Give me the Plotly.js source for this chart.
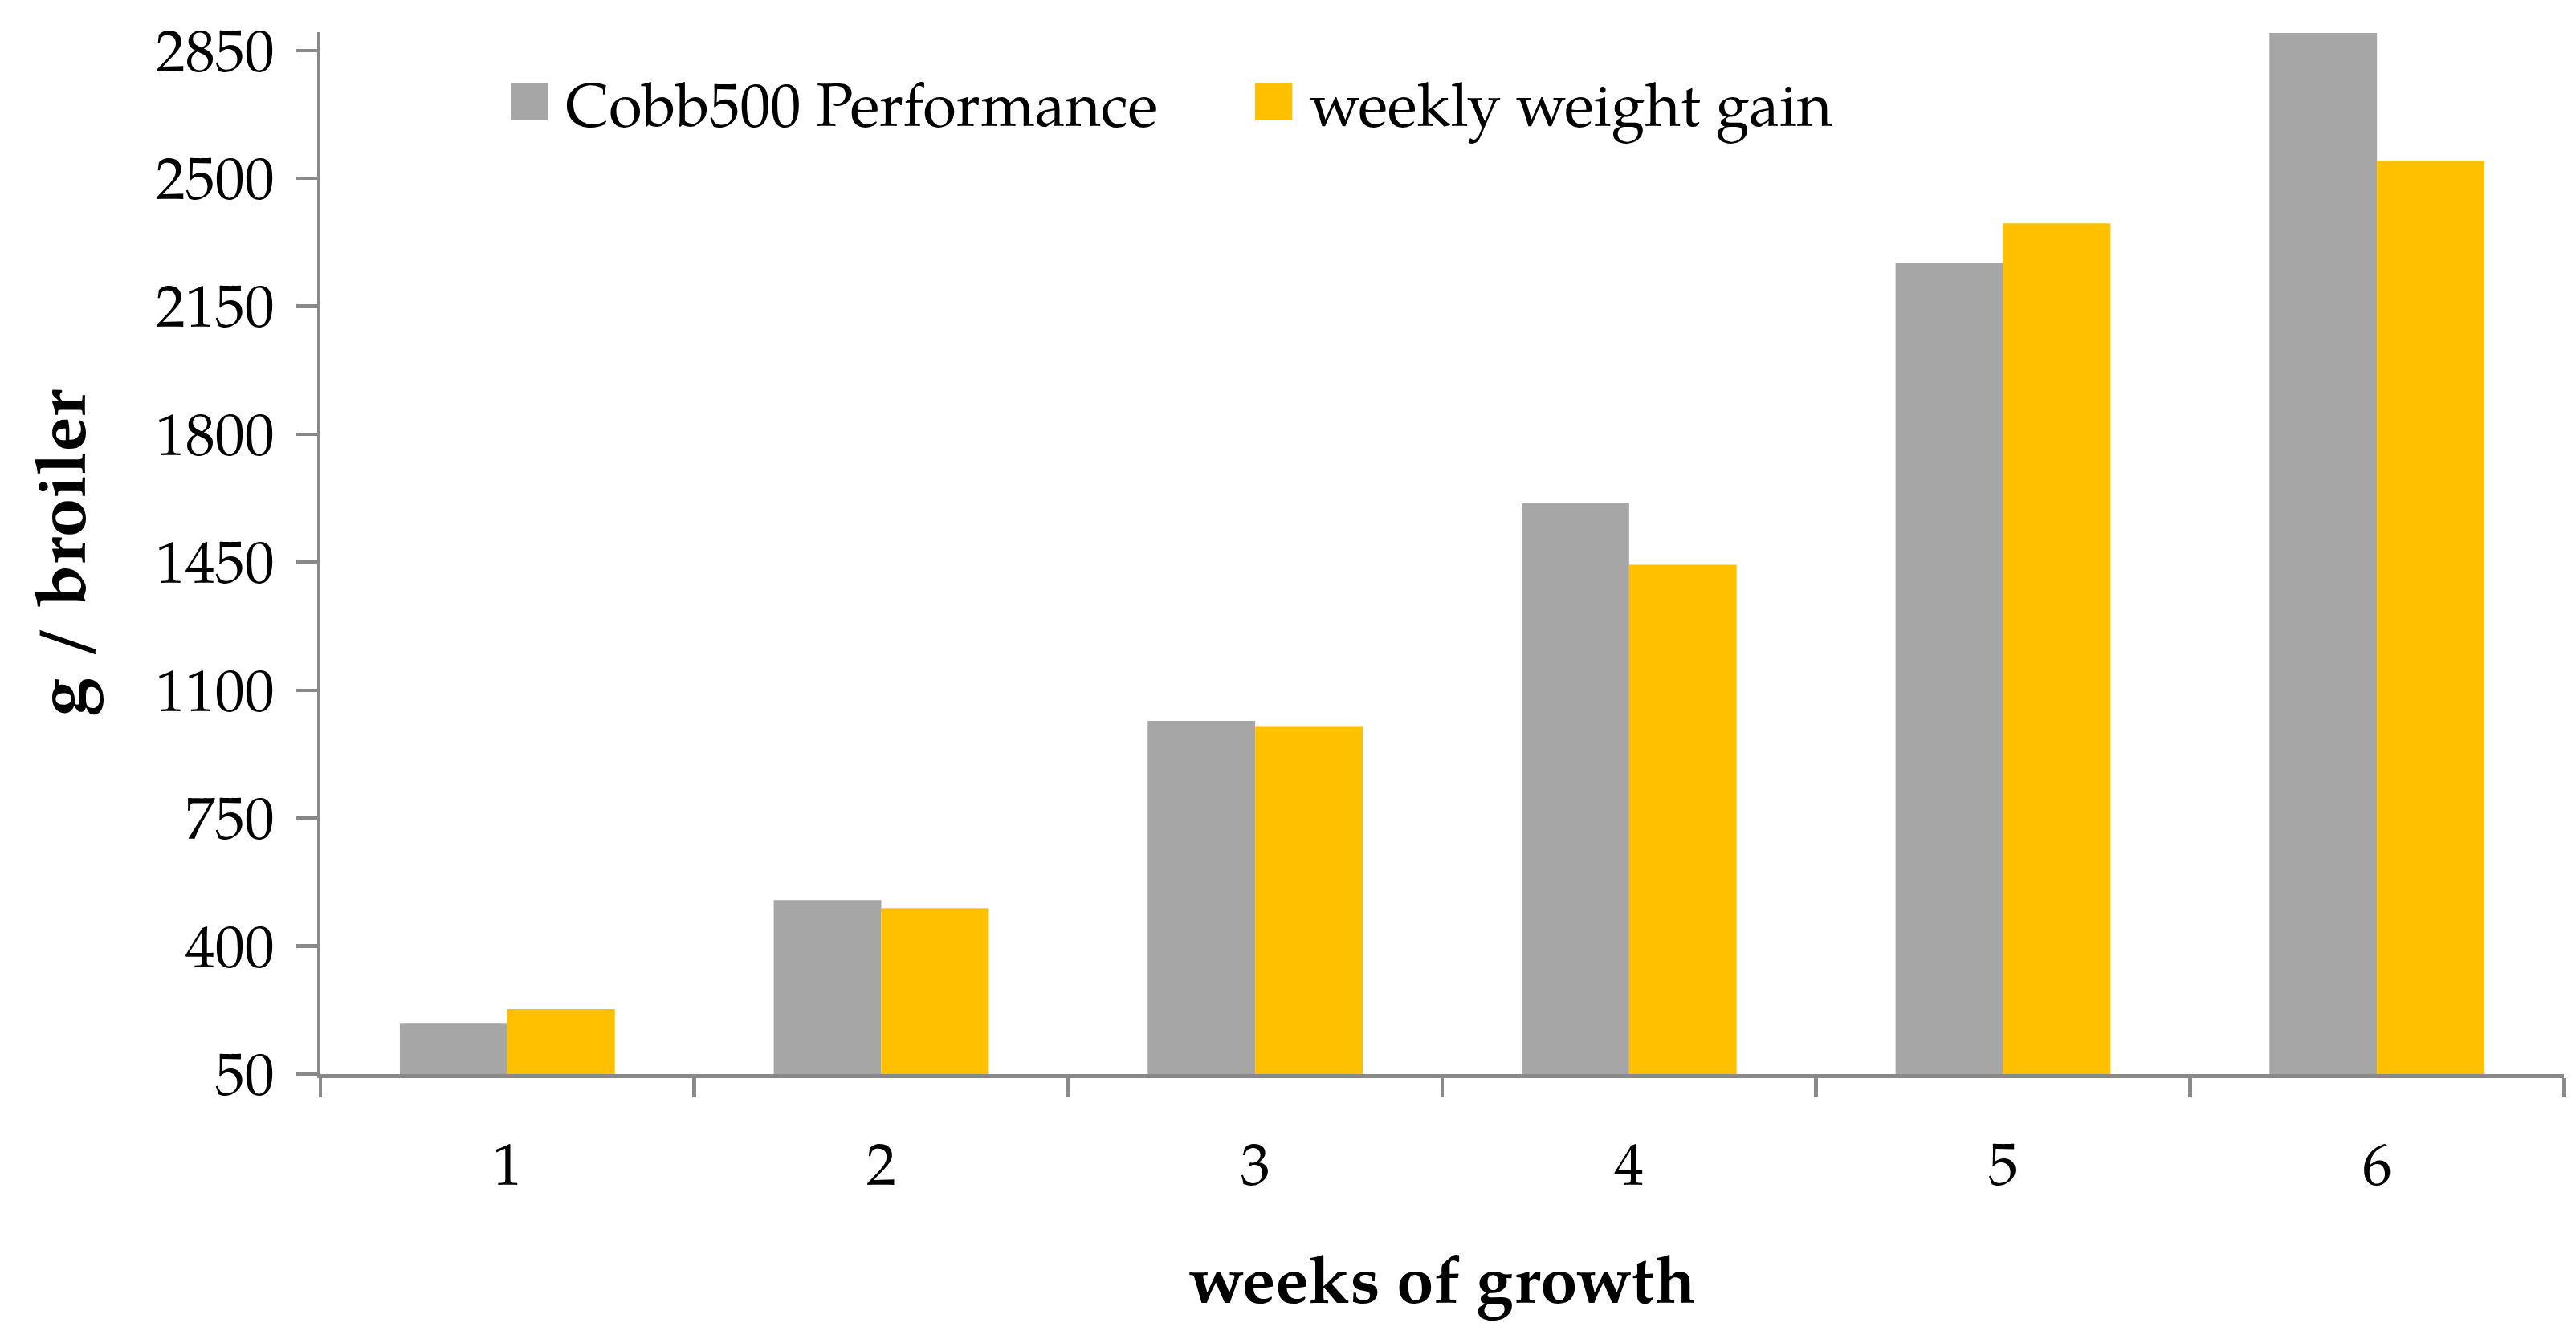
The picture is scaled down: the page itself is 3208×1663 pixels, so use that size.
<!DOCTYPE html>
<html>
<head>
<meta charset="utf-8">
<script src="https://cdn.plot.ly/plotly-3.0.1.min.js"></script>
<style>
  html, body { margin: 0; padding: 0; background: #ffffff; }
  #chart { width: 3208px; height: 1663px; }
</style>
</head>
<body>
<div id="chart"></div>
<script>
// ---- data ----
const weeks = ['1', '2', '3', '4', '5', '6'];
const cobb500Performance = [190, 526, 1016, 1613, 2269, 2898];
const weeklyWeightGain = [228, 504, 1002, 1443, 2377, 2548];
const yTickValues = [50, 400, 750, 1100, 1450, 1800, 2150, 2500, 2850];

const SERIF = "'Palatino Linotype', 'Book Antiqua', Palatino, 'TeX Gyre Pagella', 'URW Palladio L', P052, 'Liberation Serif', 'DejaVu Serif', serif";
const AXIS_GREY = '#898989';

const traces = [
  {
    type: 'bar',
    name: 'Cobb500 Performance',
    x: weeks,
    y: cobb500Performance,
    marker: { color: '#A6A6A6', line: { width: 0 } },
    hoverinfo: 'x+y+name'
  },
  {
    type: 'bar',
    name: 'weekly weight gain',
    x: weeks,
    y: weeklyWeightGain,
    marker: { color: '#FFC000', line: { width: 0 } },
    hoverinfo: 'x+y+name'
  }
];

const layout = {
  width: 3208,
  height: 1663,
  paper_bgcolor: '#ffffff',
  plot_bgcolor: '#ffffff',
  margin: { l: 399, r: 15, t: 40, b: 325, pad: 0 },
  barmode: 'group',
  bargap: 0.425,
  bargroupgap: 0,
  font: { family: SERIF, color: '#000000', size: 74 },
  showlegend: true,
  legend: {
    orientation: 'h',
    x: 0.077,
    xanchor: 'left',
    y: 0.933,
    yanchor: 'middle',
    font: { family: SERIF, size: 76, color: '#000000' },
    bgcolor: 'rgba(0,0,0,0)',
    borderwidth: 0,
    itemwidth: 80,
    entrywidth: 832,
    entrywidthmode: 'pixels',
    traceorder: 'normal'
  },
  xaxis: {
    type: 'category',
    categoryorder: 'array',
    categoryarray: weeks,
    showline: true,
    linecolor: AXIS_GREY,
    linewidth: 4.5,
    ticks: 'outside',
    tickson: 'boundaries',
    ticklen: 24,
    tickwidth: 4.5,
    tickcolor: AXIS_GREY,
    showgrid: false,
    zeroline: false,
    tickfont: { family: SERIF, size: 74, color: '#000000' },
    ticklabelstandoff: 45,
    title: {
      text: '<b>weeks of growth</b>',
      font: { family: SERIF, size: 83, color: '#000000' },
      standoff: 70
    },
    automargin: false
  },
  yaxis: {
    range: [50, 2900],
    tickmode: 'array',
    tickvals: yTickValues,
    ticktext: yTickValues.map(String),
    showline: true,
    linecolor: AXIS_GREY,
    linewidth: 4.5,
    ticks: 'outside',
    ticklen: 26,
    tickwidth: 4.5,
    tickcolor: AXIS_GREY,
    showgrid: false,
    zeroline: false,
    tickfont: { family: SERIF, size: 74, color: '#000000' },
    ticklabelstandoff: 12,
    title: {
      text: '<b>g / broiler</b>',
      font: { family: SERIF, size: 87, color: '#000000' },
      standoff: 60
    },
    automargin: false
  }
};

Plotly.newPlot('chart', traces, layout, { displayModeBar: false, staticPlot: true }).then(function () {
  // enlarge the legend colour squares to match the reference
  document.querySelectorAll('.legend .legendpoints path').forEach(function (p) {
    const t = p.getAttribute('transform') || '';
    p.setAttribute('transform', t + ' scale(3.85)');
  });
});
</script>
</body>
</html>
